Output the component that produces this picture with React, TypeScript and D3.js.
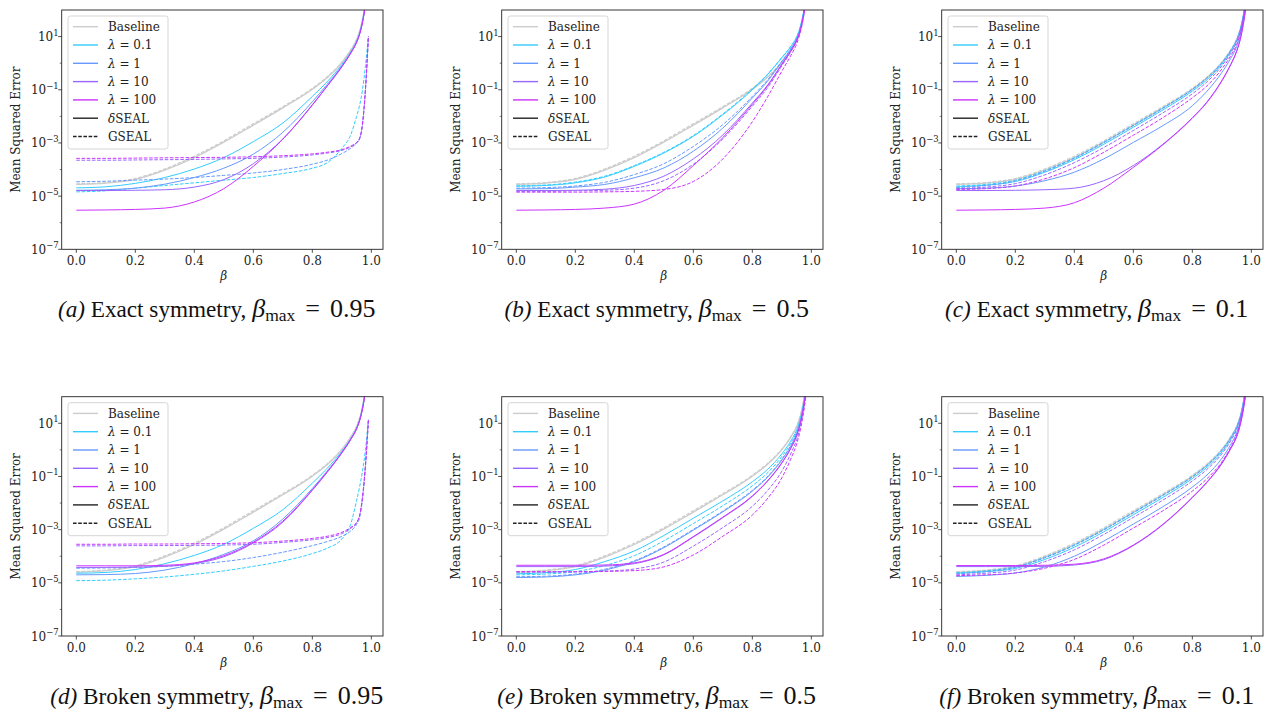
import React from 'react';
import * as d3 from 'd3';

// beta grid shared by every curve
const BETA = [0, 0.1, 0.2, 0.3, 0.4, 0.5, 0.6, 0.7, 0.8, 0.85, 0.9, 0.93, 0.95, 0.96, 0.97, 0.98, 0.99];

// values are log10(MSE)
const baseTop = [-4.56, -4.51, -4.37, -4.02, -3.55, -2.97, -2.33, -1.68, -0.98, -0.55, 0.02, 0.48, 0.88, 1.18, 1.62, 2.3, 3.3];
const baseTopG = [-4.54, -4.49, -4.34, -3.98, -3.5, -2.92, -2.28, -1.64, -0.95, -0.52, 0.04, 0.5, 0.9, 1.2, 1.64, 2.32, 3.32];
const baseBot = [-4.6, -4.54, -4.39, -4.03, -3.56, -2.98, -2.34, -1.69, -0.99, -0.56, 0.01, 0.47, 0.87, 1.17, 1.61, 2.29, 3.29];
const baseBotG = [-4.58, -4.52, -4.36, -3.99, -3.51, -2.93, -2.29, -1.65, -0.96, -0.53, 0.03, 0.49, 0.89, 1.19, 1.63, 2.31, 3.31];

// (a) exact, beta_max 0.95
const aD01 = [-4.69, -4.65, -4.52, -4.3, -3.98, -3.55, -2.95, -2.25, -1.25, -0.7, -0.05, 0.42, 0.82, 1.12, 1.58, 2.25, 3.25];
const aD1 = [-4.78, -4.76, -4.7, -4.55, -4.3, -3.95, -3.42, -2.6, -1.45, -0.8, -0.1, 0.4, 0.8, 1.1, 1.55, 2.22, 3.22];
const aD10 = [-4.79, -4.79, -4.78, -4.76, -4.66, -4.38, -3.78, -2.85, -1.56, -0.86, -0.13, 0.38, 0.79, 1.09, 1.54, 2.21, 3.21];
const aD100 = [-5.53, -5.52, -5.5, -5.45, -5.22, -4.72, -3.88, -2.86, -1.58, -0.87, -0.14, 0.37, 0.78, 1.08, 1.53, 2.2, 3.2];
const aG01 = [-4.84, -4.8, -4.7, -4.6, -4.5, -4.4, -4.3, -4.15, -3.95, -3.75, -3.2, -2.7, -2.0, -1.6, -1.0, -0.1, 1.0];
const aG1 = [-4.46, -4.44, -4.4, -4.36, -4.3, -4.22, -4.13, -4.0, -3.8, -3.65, -3.4, -3.2, -3.0, -2.85, -2.3, -1.0, 0.95];
const aG10 = [-3.65, -3.65, -3.64, -3.63, -3.62, -3.6, -3.58, -3.53, -3.45, -3.38, -3.28, -3.15, -3.0, -2.85, -2.3, -1.0, 1.0];
const aG100 = [-3.58, -3.58, -3.57, -3.56, -3.55, -3.54, -3.52, -3.48, -3.41, -3.35, -3.25, -3.12, -2.98, -2.83, -2.28, -0.98, 1.02];

// (b) exact, beta_max 0.5
const bD01 = [-4.63, -4.6, -4.5, -4.28, -3.88, -3.38, -2.75, -1.94, -1.0, -0.45, 0.2, 0.62, 0.98, 1.27, 1.7, 2.35, 3.35];
const bD1 = [-4.73, -4.72, -4.66, -4.56, -4.31, -3.94, -3.31, -2.44, -1.31, -0.7, 0.05, 0.52, 0.9, 1.19, 1.64, 2.3, 3.3];
const bD10 = [-4.79, -4.79, -4.78, -4.74, -4.6, -4.25, -3.6, -2.7, -1.5, -0.85, -0.04, 0.46, 0.86, 1.16, 1.6, 2.27, 3.27];
const bD100 = [-5.53, -5.52, -5.5, -5.45, -5.3, -4.78, -3.85, -2.8, -1.55, -0.88, -0.05, 0.45, 0.85, 1.15, 1.6, 2.27, 3.27];
const bG01 = [-4.61, -4.58, -4.47, -4.25, -3.85, -3.35, -2.72, -1.91, -0.97, -0.43, 0.22, 0.63, 0.99, 1.28, 1.71, 2.36, 3.36];
const bG1 = [-4.7, -4.68, -4.62, -4.48, -4.19, -3.78, -3.13, -2.31, -1.25, -0.65, 0.08, 0.54, 0.91, 1.2, 1.65, 2.3, 3.3];
const bG10 = [-4.82, -4.82, -4.8, -4.78, -4.7, -4.42, -3.8, -2.85, -1.62, -0.95, -0.1, 0.42, 0.83, 1.13, 1.57, 2.25, 3.25];
const bG100 = [-4.85, -4.85, -4.85, -4.84, -4.82, -4.75, -4.45, -3.6, -2.2, -1.3, -0.3, 0.28, 0.72, 1.05, 1.52, 2.2, 3.2];

// (c) exact, beta_max 0.1
const cD01 = [-4.65, -4.59, -4.45, -4.1, -3.63, -3.05, -2.41, -1.76, -1.05, -0.62, -0.04, 0.43, 0.84, 1.14, 1.59, 2.27, 3.27];
const cD1 = [-4.72, -4.7, -4.62, -4.42, -4.1, -3.6, -2.98, -2.35, -1.6, -1.05, -0.35, 0.18, 0.62, 0.96, 1.44, 2.14, 3.14];
const cD10 = [-4.79, -4.79, -4.78, -4.76, -4.7, -4.42, -3.85, -3.05, -2.05, -1.45, -0.65, -0.05, 0.45, 0.8, 1.3, 2.0, 3.0];
const cD100 = [-5.53, -5.52, -5.5, -5.45, -5.25, -4.7, -3.92, -3.07, -2.07, -1.47, -0.67, -0.06, 0.44, 0.79, 1.29, 1.99, 2.99];
const cG01 = [-4.62, -4.56, -4.4, -4.04, -3.56, -2.97, -2.33, -1.68, -0.98, -0.55, 0.02, 0.48, 0.88, 1.18, 1.62, 2.3, 3.3];
const cG1 = [-4.68, -4.6, -4.43, -4.07, -3.58, -2.99, -2.35, -1.7, -0.99, -0.56, 0.01, 0.47, 0.87, 1.17, 1.61, 2.29, 3.29];
const cG10 = [-4.72, -4.66, -4.53, -4.2, -3.74, -3.17, -2.53, -1.87, -1.15, -0.7, -0.1, 0.38, 0.79, 1.1, 1.55, 2.24, 3.24];
const cG100 = [-4.75, -4.72, -4.62, -4.35, -3.93, -3.35, -2.71, -2.05, -1.3, -0.85, -0.22, 0.28, 0.7, 1.02, 1.49, 2.18, 3.18];

// (d) broken, beta_max 0.95
const dD01 = [-4.64, -4.61, -4.5, -4.28, -3.97, -3.55, -2.95, -2.25, -1.25, -0.7, -0.05, 0.42, 0.82, 1.12, 1.58, 2.25, 3.25];
const dD1 = [-4.7, -4.69, -4.65, -4.52, -4.28, -3.93, -3.42, -2.6, -1.45, -0.8, -0.1, 0.4, 0.8, 1.1, 1.55, 2.22, 3.22];
const dD10 = [-4.42, -4.42, -4.41, -4.38, -4.28, -4.02, -3.5, -2.72, -1.52, -0.85, -0.12, 0.38, 0.79, 1.09, 1.54, 2.21, 3.21];
const dD100 = [-4.36, -4.36, -4.36, -4.34, -4.25, -3.98, -3.47, -2.68, -1.5, -0.83, -0.1, 0.4, 0.8, 1.1, 1.55, 2.22, 3.22];
const dG01 = [-4.92, -4.9, -4.85, -4.78, -4.68, -4.55, -4.38, -4.18, -3.9, -3.7, -3.35, -2.8, -1.9, -1.4, -0.8, 0.0, 1.15];
const dG1 = [-4.45, -4.44, -4.42, -4.38, -4.3, -4.2, -4.05, -3.85, -3.6, -3.45, -3.25, -3.05, -2.8, -2.55, -1.85, -0.65, 1.1];
const dG10 = [-3.61, -3.61, -3.6, -3.6, -3.59, -3.58, -3.55, -3.48, -3.38, -3.3, -3.15, -2.95, -2.75, -2.5, -1.8, -0.6, 1.1];
const dG100 = [-3.55, -3.55, -3.54, -3.54, -3.53, -3.52, -3.49, -3.43, -3.33, -3.25, -3.1, -2.92, -2.72, -2.47, -1.77, -0.57, 1.13];

// (e) broken, beta_max 0.5
const eD01 = [-4.66, -4.62, -4.5, -4.2, -3.8, -3.22, -2.57, -1.92, -1.2, -0.75, -0.15, 0.33, 0.75, 1.07, 1.53, 2.22, 3.22];
const eD1 = [-4.8, -4.78, -4.7, -4.52, -4.2, -3.68, -3.02, -2.33, -1.55, -1.05, -0.38, 0.14, 0.6, 0.94, 1.42, 2.12, 3.12];
const eD10 = [-4.39, -4.39, -4.39, -4.37, -4.28, -3.95, -3.28, -2.55, -1.75, -1.2, -0.5, 0.05, 0.53, 0.88, 1.37, 2.07, 3.07];
const eD100 = [-4.34, -4.34, -4.34, -4.33, -4.25, -3.93, -3.26, -2.53, -1.73, -1.18, -0.48, 0.06, 0.54, 0.89, 1.38, 2.08, 3.08];
const eG01 = [-4.7, -4.67, -4.58, -4.35, -3.98, -3.42, -2.77, -2.1, -1.35, -0.88, -0.25, 0.25, 0.68, 1.01, 1.48, 2.18, 3.18];
const eG1 = [-4.77, -4.75, -4.67, -4.49, -4.17, -3.65, -2.99, -2.3, -1.52, -1.02, -0.35, 0.16, 0.62, 0.96, 1.44, 2.14, 3.14];
const eG10 = [-4.6, -4.6, -4.59, -4.56, -4.48, -4.22, -3.62, -2.92, -2.12, -1.55, -0.8, -0.15, 0.38, 0.75, 1.27, 1.98, 3.0];
const eG100 = [-4.58, -4.58, -4.58, -4.57, -4.54, -4.4, -3.95, -3.25, -2.45, -1.85, -1.05, -0.35, 0.22, 0.62, 1.18, 1.9, 2.95];

// (f) broken, beta_max 0.1
const fD01 = [-4.64, -4.58, -4.46, -4.12, -3.66, -3.08, -2.44, -1.79, -1.08, -0.65, -0.08, 0.4, 0.81, 1.12, 1.56, 2.25, 3.25];
const fD1 = [-4.76, -4.72, -4.63, -4.4, -4.0, -3.43, -2.79, -2.14, -1.4, -0.94, -0.32, 0.2, 0.64, 0.98, 1.45, 2.15, 3.15];
const fD10 = [-4.39, -4.39, -4.39, -4.38, -4.33, -4.13, -3.6, -2.82, -1.8, -1.22, -0.52, 0.04, 0.49, 0.84, 1.34, 2.04, 3.04];
const fD100 = [-4.35, -4.35, -4.35, -4.34, -4.3, -4.1, -3.58, -2.8, -1.78, -1.2, -0.5, 0.06, 0.5, 0.85, 1.35, 2.05, 3.05];
const fG01 = [-4.62, -4.55, -4.4, -4.04, -3.57, -2.99, -2.35, -1.7, -1.0, -0.57, 0.0, 0.46, 0.86, 1.16, 1.6, 2.28, 3.28];
const fG1 = [-4.66, -4.58, -4.42, -4.06, -3.59, -3.01, -2.37, -1.72, -1.02, -0.59, -0.02, 0.45, 0.85, 1.15, 1.59, 2.27, 3.27];
const fG10 = [-4.7, -4.64, -4.52, -4.2, -3.76, -3.18, -2.54, -1.89, -1.17, -0.73, -0.15, 0.34, 0.76, 1.08, 1.53, 2.22, 3.22];
const fG100 = [-4.73, -4.7, -4.63, -4.45, -4.12, -3.58, -2.94, -2.29, -1.55, -1.08, -0.45, 0.1, 0.56, 0.92, 1.4, 2.1, 3.1];

const LAMBDA_LABELS = ['0.1', '1', '10', '100'];
const LAMBDA_COLORS = ['#33ccff', '#6699ff', '#9966ff', '#cc33ff'];
const BASE_COLOR = '#cccccc';
const X_TICKS = [0, 0.2, 0.4, 0.6, 0.8, 1.0];
const Y_MAJOR = [-7, -5, -3, -1, 1];
const Y_MINOR = [-6, -4, -2, 0];
const CAPTION_LETTERS = ['a', 'b', 'c', 'd', 'e', 'f'];
const CAPTION_KINDS = ['Exact symmetry', 'Exact symmetry', 'Exact symmetry', 'Broken symmetry', 'Broken symmetry', 'Broken symmetry'];
const CAPTION_BMAX = ['0.95', '0.5', '0.1', '0.95', '0.5', '0.1'];

const PANEL_DATA = [
  { base: baseTop, baseG: baseTopG, d: [aD01, aD1, aD10, aD100], g: [aG01, aG1, aG10, aG100] },
  { base: baseTop, baseG: baseTopG, d: [bD01, bD1, bD10, bD100], g: [bG01, bG1, bG10, bG100] },
  { base: baseTop, baseG: baseTopG, d: [cD01, cD1, cD10, cD100], g: [cG01, cG1, cG10, cG100] },
  { base: baseBot, baseG: baseBotG, d: [dD01, dD1, dD10, dD100], g: [dG01, dG1, dG10, dG100] },
  { base: baseBot, baseG: baseBotG, d: [eD01, eD1, eD10, eD100], g: [eG01, eG1, eG10, eG100] },
  { base: baseBot, baseG: baseBotG, d: [fD01, fD1, fD10, fD100], g: [fG01, fG1, fG10, fG100] },
];

const FONT = "'DejaVu Serif', serif";
const CAP_FONT = "'Liberation Serif', 'Times New Roman', serif";
const DASH = '3.6,1.6';

const AX_W = 321.3;
const AX_H = 239.3;
const COL_X = [61.7, 501.7, 941.7];
const ROW_Y = [10, 396.7];

function Panel({ idx }: { idx: number }) {
  const col = idx % 3;
  const row = Math.floor(idx / 3);
  const x0 = COL_X[col];
  const y0 = ROW_Y[row];
  const data = PANEL_DATA[idx];
  const x = d3.scaleLinear().domain([-0.0495, 1.0395]).range([x0, x0 + AX_W]);
  const y = d3.scaleLog().domain([1e-7, 1e2]).range([y0 + AX_H, y0]);
  const line = d3
    .line<[number, number]>()
    .x((p) => x(p[0]))
    .y((p) => y(Math.pow(10, p[1])))
    .curve(d3.curveMonotoneX);
  const pts = (arr: number[]) => BETA.map((b, i) => [b, arr[i]] as [number, number]);
  const clipId = `clip-${idx}`;

  const lines: { arr: number[]; color: string; dashed: boolean; w: number }[] = [];
  lines.push({ arr: data.base, color: BASE_COLOR, dashed: false, w: 1.3 });
  lines.push({ arr: data.baseG, color: BASE_COLOR, dashed: true, w: 1.3 });
  for (let k = 0; k < 4; k++) {
    lines.push({ arr: data.d[k], color: LAMBDA_COLORS[k], dashed: false, w: 1.0 });
    lines.push({ arr: data.g[k], color: LAMBDA_COLORS[k], dashed: true, w: 1.0 });
  }

  const legX = x0 + 6.3;
  const legY = y0 + 6;
  const rowH = 18.3;
  const legendRows = [
    { color: BASE_COLOR, dashed: false, label: <tspan>Baseline</tspan> },
    ...LAMBDA_LABELS.map((l, k) => ({
      color: LAMBDA_COLORS[k],
      dashed: false,
      label: (
        <>
          <tspan fontStyle="italic">λ</tspan>
          <tspan> = {l}</tspan>
        </>
      ),
    })),
    {
      color: '#222',
      dashed: false,
      label: (
        <>
          <tspan fontStyle="italic">δ</tspan>
          <tspan>SEAL</tspan>
        </>
      ),
    },
    { color: '#222', dashed: true, label: <tspan>GSEAL</tspan> },
  ];

  const capCx = x0 + 155;
  const capY = y0 + 307.3;

  return (
    <g>
      <defs>
        <clipPath id={clipId}>
          <rect x={x0} y={y0} width={AX_W} height={AX_H} />
        </clipPath>
      </defs>
      <g clipPath={`url(#${clipId})`}>
        {lines.map((l, i) => (
          <path
            key={i}
            d={line(pts(l.arr)) || ''}
            fill="none"
            stroke={l.color}
            strokeWidth={l.w}
            strokeDasharray={l.dashed ? DASH : undefined}
          />
        ))}
      </g>
      <rect x={x0} y={y0} width={AX_W} height={AX_H} fill="none" stroke="#222" strokeWidth={0.9} />
      {X_TICKS.map((t) => (
        <g key={t}>
          <line x1={x(t)} x2={x(t)} y1={y0 + AX_H} y2={y0 + AX_H + 3.5} stroke="#222" strokeWidth={0.8} />
          <text x={x(t)} y={y0 + AX_H + 16} textAnchor="middle" fontFamily={FONT} fontSize={12} fill="#222">
            {t.toFixed(1)}
          </text>
        </g>
      ))}
      {Y_MAJOR.map((e) => (
        <g key={e}>
          <line x1={x0 - 3.5} x2={x0} y1={y(Math.pow(10, e))} y2={y(Math.pow(10, e))} stroke="#222" strokeWidth={0.8} />
          <text x={x0 - 3} y={y(Math.pow(10, e)) + 4.5} textAnchor="end" fontFamily={FONT} fontSize={12} fill="#222">
            10
            <tspan dy={-5.5} fontSize={8.5}>
              {e < 0 ? `−${-e}` : `${e}`}
            </tspan>
          </text>
        </g>
      ))}
      {Y_MINOR.map((e) => (
        <line key={e} x1={x0 - 2} x2={x0} y1={y(Math.pow(10, e))} y2={y(Math.pow(10, e))} stroke="#222" strokeWidth={0.6} />
      ))}
      <text x={x(0.5)} y={y0 + AX_H + 31} textAnchor="middle" fontFamily={FONT} fontSize={12} fontStyle="italic" fill="#222">
        β
      </text>
      <text
        transform={`translate(${x0 - 41.5},${y0 + AX_H / 2}) rotate(-90)`}
        textAnchor="middle"
        fontFamily={FONT}
        fontSize={12}
        fill="#222"
      >
        Mean Squared Error
      </text>
      <rect x={legX} y={legY} width={100} height={133} rx={2.5} fill="#fff" fillOpacity={0.8} stroke="#d0d0d0" strokeWidth={0.9} />
      {legendRows.map((r, i) => {
        const cy = legY + 10.7 + i * rowH;
        return (
          <g key={i}>
            <line
              x1={legX + 5}
              x2={legX + 30}
              y1={cy}
              y2={cy}
              stroke={r.color}
              strokeWidth={1.4}
              strokeDasharray={r.dashed ? DASH : undefined}
            />
            <text x={legX + 40} y={cy + 4.3} fontFamily={FONT} fontSize={12} fill="#222">
              {r.label}
            </text>
          </g>
        );
      })}
      <text x={capCx} y={capY} textAnchor="middle" fontFamily={CAP_FONT} fontSize={23.2} fill="#111">
        <tspan fontStyle="italic">({CAPTION_LETTERS[idx]})</tspan>
        <tspan> {CAPTION_KINDS[idx]}, </tspan>
        <tspan fontStyle="italic" fontSize={26}>β</tspan>
        <tspan fontSize={17.5} dy={4}>max</tspan>
        <tspan dy={-4} dx={10} fontSize={26}>=</tspan>
        <tspan dx={10} fontSize={26}>{CAPTION_BMAX[idx]}</tspan>
      </text>
    </g>
  );
}

export default function App() {
  return (
    <svg width={1264} height={711} style={{ position: 'absolute', left: 0, top: 0, background: '#fff' }}>
      <rect width={1264} height={711} fill="#fff" />
      {[0, 1, 2, 3, 4, 5].map((i) => (
        <Panel key={i} idx={i} />
      ))}
    </svg>
  );
}
